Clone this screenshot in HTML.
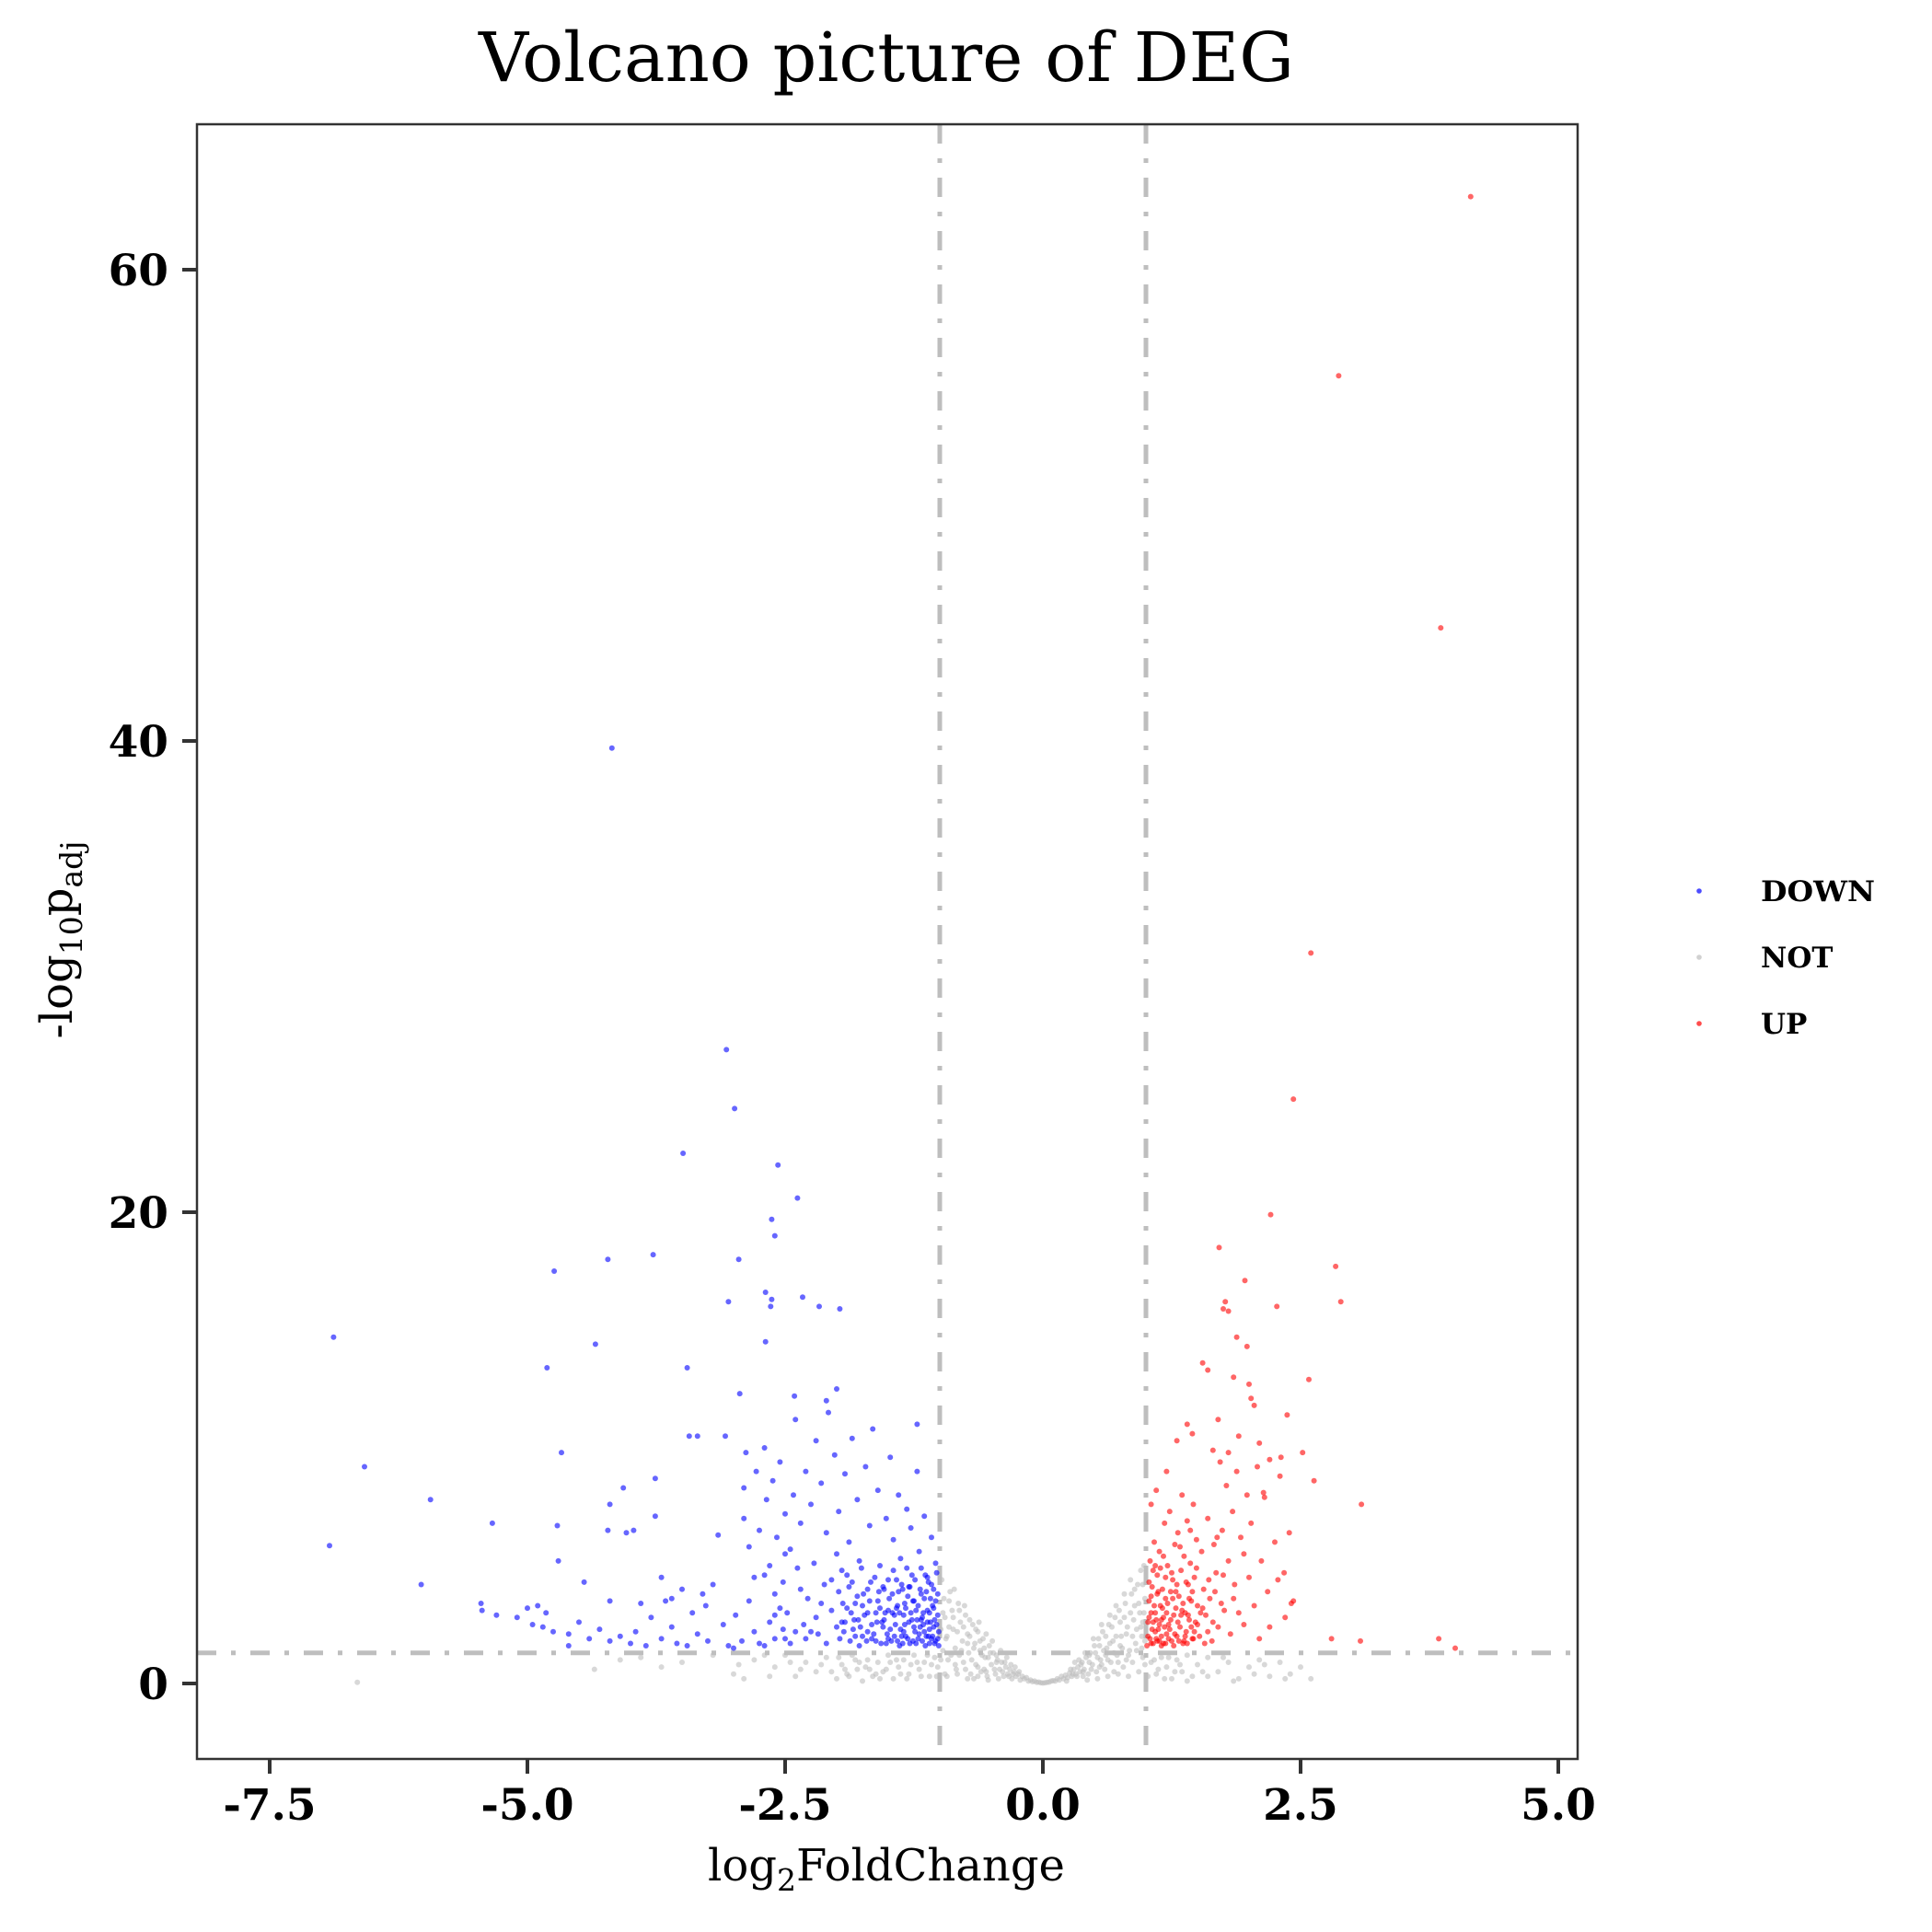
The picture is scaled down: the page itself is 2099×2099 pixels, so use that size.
<!DOCTYPE html>
<html><head><meta charset="utf-8"><style>
html,body{margin:0;padding:0;background:#fff;}
svg{display:block;}
text{font-family:"DejaVu Serif","Liberation Serif",serif;}
</style></head><body>
<svg id="chart" width="2099" height="2099" viewBox="0 0 2099 2099" xmlns="http://www.w3.org/2000/svg">
<rect width="2099" height="2099" fill="#fff"/>
<text x="963" y="88" font-size="74" text-anchor="middle" textLength="886" lengthAdjust="spacingAndGlyphs">Volcano picture of DEG</text>
<g id="grid"></g>
<g id="pts"></g>
<rect x="214" y="135" width="1500" height="1776" fill="none" stroke="#333" stroke-width="2.5"/>
<g id="axes"></g>
<text x="963" y="2043" font-size="48" text-anchor="middle">log<tspan font-size="33" dy="11">2</tspan><tspan dy="-11">FoldChange</tspan></text>
<text transform="translate(78,1021) rotate(-90)" font-size="48" text-anchor="middle">-log<tspan font-size="33" dy="11">10</tspan><tspan dy="-11">p</tspan><tspan font-size="33" dy="11">adj</tspan></text>
<g>
  <circle cx="1846" cy="968" r="2.8" fill="#0000ff" fill-opacity="0.7"/>
  <text x="1913" y="979" font-size="31" font-weight="bold" textLength="124" lengthAdjust="spacingAndGlyphs">DOWN</text>
  <circle cx="1846" cy="1040" r="2.8" fill="#bebebe" fill-opacity="0.7"/>
  <text x="1913" y="1051" font-size="31" font-weight="bold">NOT</text>
  <circle cx="1846" cy="1112" r="2.8" fill="#ff0000" fill-opacity="0.7"/>
  <text x="1913" y="1123" font-size="31" font-weight="bold">UP</text>
</g>
</svg>
<script>
const xTicks=[-7.5,-5.0,-2.5,0.0,2.5,5.0];
const xTickLabels=["-7.5","-5.0","-2.5","0.0","2.5","5.0"];
const yTicks=[0,20,40,60];
const yTickLabels=["0","20","40","60"];
const fcThresholds=[-1,1];
const padjThreshold=1.3;
const downPoints=[-6.88,14.7,-6.92,5.85,-6.58,9.2,-6.03,4.2,-5.94,7.8,-5.34,6.8,-5.45,3.4,-5.44,3.1,-4.74,17.5,-4.81,13.4,-4.67,9.8,-4.71,6.7,-4.34,14.4,-4.18,39.7,-4.22,18.0,-3.78,18.2,-3.43,10.5,-3.07,26.9,-2.99,24.4,-3.49,22.5,-2.57,22.0,-2.38,20.6,-2.63,19.7,-2.60,19.0,-2.95,18.0,-2.69,16.6,-2.63,16.3,-2.64,16.0,-2.33,16.4,-3.05,16.2,-1.97,15.9,-2.17,16.0,-2.69,14.5,-3.45,13.4,-2.94,12.3,-2.0,12.5,-2.41,12.2,-2.1,12.0,-1.22,11.0,-3.08,10.5,-3.35,10.5,-3.76,8.7,-4.07,8.3,-4.2,7.6,-3.76,7.1,-4.04,6.4,-3.97,6.5,-4.22,6.5,-4.9,3.3,-4.82,3.0,-4.2,3.5,-3.9,3.4,-3.66,3.5,-3.27,3.3,-3.15,6.3,-2.9,8.3,-2.88,9.8,
-5.3,2.9,-5.1,2.8,-5.0,3.2,-4.95,2.5,-4.85,2.4,-4.75,2.2,-4.6,2.1,-4.5,2.6,-4.4,1.9,-4.3,2.3,-4.2,1.8,-4.1,2.0,-4.0,1.7,-3.95,2.2,-3.85,1.6,-3.8,2.8,-3.7,1.9,-3.6,2.4,-3.55,1.7,-3.45,1.6,-3.4,3.0,-3.35,2.1,-3.25,1.8,-3.2,4.2,-3.1,2.5,-3.05,1.6,-2.98,2.9,-2.92,1.8,-2.85,3.5,-2.8,2.2,-2.75,1.7,-2.7,4.6,-2.65,2.6,-2.6,1.9,-2.55,3.2,-2.5,5.5,-3.0,1.5,-3.6,3.6,-4.6,1.6,-4.45,4.3,-4.7,5.2,-3.7,4.5,-3.5,4.0,-3.3,3.8,
-2.9,7.0,-2.85,5.8,-2.8,4.5,-2.78,9.0,-2.75,6.5,-2.7,10.0,-2.68,7.8,-2.65,5.0,-2.62,8.6,-2.6,3.8,-2.58,6.2,-2.55,9.4,-2.52,4.3,-2.5,7.2,-2.48,3.0,-2.45,5.7,-2.42,8.0,-2.4,11.2,-2.38,4.9,-2.35,6.8,-2.32,2.5,-2.3,9.0,-2.28,3.6,-2.25,7.6,-2.22,5.1,-2.2,10.3,-2.18,2.1,-2.15,8.5,-2.12,4.2,-2.1,6.4,-2.08,11.5,-2.05,3.1,-2.02,9.7,-2.0,5.5,-1.98,7.3,-1.95,2.6,-1.92,8.9,-1.9,4.6,-1.88,6.0,-1.85,10.4,-1.82,3.4,-1.8,7.8,-1.78,5.2,-1.75,2.0,-1.72,9.2,-1.7,4.0,-1.68,6.7,-1.65,10.8,-1.62,3.0,-1.6,8.2,-1.58,5.0,-1.55,2.4,-1.52,7.0,-1.5,4.4,-1.48,9.6,-1.45,6.1,-1.42,3.2,-1.4,8.0,-1.38,5.3,-1.35,2.2,-1.32,7.4,-1.3,4.1,-1.28,6.6,-1.25,3.5,-1.22,9.0,-1.2,5.6,-1.18,2.7,-1.15,7.1,-1.12,4.5,-1.1,3.0,-1.08,6.2,-1.06,2.4,-1.04,5.1,-1.02,3.8,
-1.98,3.9,-1.95,4.8,-1.93,2.2,-1.9,3.2,-1.87,1.8,-1.85,4.3,-1.83,2.7,-1.8,3.7,-1.78,1.6,-1.76,4.9,-1.73,2.9,-1.7,2.2,-1.68,3.5,-1.66,1.9,-1.63,4.5,-1.61,2.6,-1.59,3.9,-1.57,1.7,-1.55,4.1,-1.53,3.0,-1.51,2.1,-1.49,3.6,-1.47,1.8,-1.45,4.8,-1.43,2.5,-1.41,3.3,-1.39,1.6,-1.37,4.2,-1.35,2.9,-1.33,2.0,-1.31,3.7,-1.29,1.7,-1.27,4.6,-1.25,2.4,-1.23,3.1,-1.21,1.9,-1.19,4.0,-1.17,2.8,-1.15,3.6,-1.13,2.0,-1.11,4.3,-1.09,2.6,-1.07,3.3,-1.05,1.7,-1.03,4.7,-1.01,2.2,-1.02,2.9,-1.04,3.5,-1.06,4.0,-1.08,1.9,-1.1,2.3,-1.12,3.1,-1.14,1.6,-1.16,2.5,-1.18,3.8,-1.2,2.1,-1.22,2.7,-1.24,4.4,-1.26,1.8,-1.28,3.0,-1.3,2.6,-1.32,4.9,-1.34,3.4,-1.36,1.7,-1.38,2.3,-1.4,3.9,-1.44,2.0,-1.46,3.0,-1.5,1.9,-1.54,2.7,-1.58,3.2,-1.62,1.8,-1.66,2.5,-1.7,3.0,-1.74,3.8,-1.77,2.4,-1.82,2.0,-1.86,3.0,-1.92,2.6,-1.97,1.9,-2.1,1.7,-2.2,2.8,-2.3,1.9,-2.4,2.2,-2.45,1.7,-2.52,2.3,-2.6,2.9,-2.7,1.6,
-1.01,1.6,-1.02,1.9,-1.03,2.5,-1.04,1.8,-1.05,2.7,-1.06,3.2,-1.07,2.0,-1.08,4.2,-1.09,3.6,-1.1,1.7,-1.11,2.0,-1.12,2.6,-1.13,3.9,-1.14,4.6,-1.15,2.2,-1.16,3.0,-1.17,1.8,-1.18,4.9,-1.19,2.4,-1.21,3.3,-1.23,1.7,-1.24,2.2,-1.26,3.5,-1.27,2.7,-1.29,4.1,-1.31,1.9,-1.33,3.2,-1.34,2.5,-1.36,4.0,-1.37,2.0,-1.39,3.0,-1.41,1.8,-1.42,4.4,-1.44,2.9,-1.46,3.8,-1.48,2.3,-1.5,3.1,-1.52,1.7,-1.54,4.0,-1.56,2.6,-1.6,3.5,-1.64,2.1,-1.67,4.3,-1.71,1.8,-1.75,3.3,-1.79,2.7,-1.84,2.3,-1.88,4.1,-1.94,3.4,-2.0,2.4,-2.05,4.4,-2.15,3.4,-2.25,2.2,-2.35,4.0,-2.5,1.9];
const upPoints=[4.15,63.1,2.87,55.5,3.86,44.8,2.60,31.0,2.43,24.8,2.21,19.9,2.84,17.7,2.89,16.2,2.27,16.0,1.71,18.5,1.96,17.1,1.77,16.2,1.75,15.9,1.80,15.8,1.88,14.7,1.98,14.3,2.58,12.9,2.37,11.4,3.09,7.6,2.63,8.6,2.52,9.8,2.31,9.6,2.14,8.1,2.39,6.4,2.34,4.7,2.43,3.5,2.41,3.4,2.80,1.9,3.08,1.8,3.84,1.9,4.0,1.5,
1.55,13.6,1.6,13.3,1.85,13.0,2.0,12.7,2.05,11.8,2.02,12.1,1.7,11.2,1.45,10.6,1.3,10.3,1.4,11.0,1.9,10.5,2.1,10.2,2.2,9.5,1.8,9.8,1.65,9.9,1.2,9.0,1.1,8.2,1.05,7.6,
1.02,2.0,1.03,3.5,1.04,5.2,1.05,1.7,1.06,4.1,1.07,2.6,1.08,6.0,1.09,3.0,1.1,1.9,1.11,4.6,1.12,2.3,1.13,5.6,1.14,3.3,1.15,1.6,1.16,4.0,1.17,2.8,1.18,6.8,1.19,3.6,1.2,2.1,1.21,5.0,1.22,2.5,1.23,7.3,1.24,3.9,1.25,1.8,1.26,4.4,1.27,2.9,1.28,5.9,1.29,3.2,1.3,2.0,1.31,6.4,1.32,3.7,1.33,2.4,1.34,4.8,1.35,8.0,1.36,1.7,1.37,5.4,1.38,3.0,1.39,2.2,1.4,6.9,1.41,4.2,1.42,2.7,1.43,5.1,1.44,3.5,1.45,1.9,1.46,7.6,1.47,4.5,1.48,2.6,1.49,6.1,1.5,3.3,1.52,2.0,1.54,5.6,1.56,4.0,1.58,2.9,1.6,7.0,1.62,3.6,1.64,1.8,1.66,5.9,1.68,4.7,1.7,2.4,1.72,9.4,1.74,6.5,1.76,3.1,1.78,8.4,1.8,5.2,1.82,2.1,1.84,7.3,1.86,4.2,1.88,9.0,1.9,3.0,1.92,6.2,1.95,2.5,1.98,8.0,2.0,4.5,2.02,6.8,2.05,3.3,2.08,9.2,2.1,1.9,2.12,5.2,2.15,7.9,2.18,3.9,2.2,2.4,2.25,6.0,2.28,4.4,2.3,8.8,2.35,2.8,
1.03,2.8,1.05,3.0,1.07,4.8,1.09,2.2,1.11,3.8,1.13,1.8,1.15,2.7,1.17,5.4,1.19,1.7,1.21,3.4,1.23,2.3,1.25,4.7,1.27,1.6,1.29,3.9,1.31,2.6,1.33,5.8,1.35,3.1,1.37,1.8,1.39,4.3,1.41,2.9,1.43,6.5,1.45,3.9,1.47,2.2,1.49,4.9,1.53,3.0,1.57,1.7,1.61,4.4,1.65,2.6,1.69,6.2,1.73,3.4,
1.01,1.6,1.02,2.6,1.03,4.3,1.04,1.9,1.05,3.7,1.06,2.3,1.07,1.7,1.08,3.3,1.09,5.0,1.1,2.7,1.11,1.8,1.12,3.9,1.13,2.5,1.14,4.9,1.15,2.0,1.16,3.2,1.17,1.7,1.18,2.4,1.19,4.5,1.2,3.0,1.22,1.9,1.24,2.7,1.26,3.6,1.28,2.1,1.3,4.2,1.32,1.8,1.34,2.9,1.36,3.4,1.38,2.0,1.4,1.7,1.42,3.6,1.44,2.4,1.46,1.9,1.5,2.5,1.55,3.2,1.6,2.2,1.67,3.9,1.75,4.6,1.85,3.6,1.95,5.5];
const notPoints=[-6.65,0.05,-4.35,0.6,-3.9,1.1,-3.5,0.9,-3.2,1.2,-3.0,0.4,-2.8,1.0,-2.6,0.7,-2.5,1.2,-2.4,0.3,-2.3,0.9,-2.2,0.5,-2.1,1.1,-2.0,0.2,-1.95,0.8,-1.9,0.4,-1.85,1.2,-1.8,0.6,-1.75,0.1,-1.7,1.0,-1.65,0.3,-1.6,0.9,-1.55,0.5,-1.5,1.2,-1.45,0.2,-1.4,0.7,-1.35,1.0,-1.3,0.4,-1.25,1.2,-1.2,0.6,-1.15,0.9,-1.1,0.3,-1.05,1.1,-1.02,0.7,-3.7,0.7,-4.1,1.0,-2.9,0.2,-2.7,1.2,
-0.98,4.4,-0.96,3.6,-0.95,2.8,-0.94,1.9,-0.92,1.0,-0.9,3.9,-0.88,3.1,-0.87,2.3,-0.85,1.5,-0.84,0.6,-0.82,3.4,-0.8,2.6,-0.78,1.8,-0.77,0.9,-0.75,2.9,-0.73,2.1,-0.72,1.3,-0.7,0.4,-0.68,2.5,-0.66,1.7,-0.65,0.8,-0.63,2.2,-0.61,1.4,-0.6,0.5,-0.58,1.9,-0.56,1.1,-0.54,0.3,-0.52,1.6,-0.5,0.8,-0.48,1.3,-0.46,0.4,-0.44,1.0,-0.42,0.6,-0.4,0.9,-0.38,0.3,-0.36,0.7,-0.34,0.4,-0.32,0.6,-0.3,0.2,-0.28,0.5,-0.26,0.3,-0.24,0.4,-0.22,0.15,-0.2,0.3,-0.18,0.2,-0.16,0.25,-0.14,0.1,-0.12,0.15,-0.1,0.08,-0.08,0.1,-0.06,0.05,-0.04,0.06,-0.02,0.03,0.0,0.02,0.02,0.03,0.04,0.05,0.06,0.06,0.08,0.1,0.1,0.12,0.12,0.1,0.14,0.2,0.16,0.15,0.18,0.3,0.2,0.2,0.22,0.35,0.24,0.25,0.26,0.45,0.28,0.3,0.3,0.6,0.32,0.4,0.34,0.7,0.36,0.5,0.38,0.9,0.4,0.6,0.42,1.1,0.44,0.4,0.46,1.3,0.48,0.8,0.5,1.6,0.52,0.5,0.54,1.9,0.56,1.0,0.58,2.2,0.6,0.6,0.62,1.5,0.64,2.5,0.66,0.9,0.68,1.8,0.7,2.8,0.72,1.2,0.74,3.1,0.76,2.0,0.78,0.7,0.8,3.4,0.82,2.4,0.84,1.4,0.86,3.8,0.88,2.7,0.9,1.7,0.92,4.2,0.94,3.0,0.96,2.0,0.98,5.0,0.99,3.6,0.97,1.1,0.93,0.5,0.87,0.9,0.83,0.3,0.73,0.4,0.63,0.3,0.53,0.2,0.43,0.15,-0.43,0.2,-0.53,0.15,-0.63,0.3,-0.73,0.2,-0.83,0.4,-0.93,0.3,-0.97,1.4,-0.99,2.3,-0.91,2.4,-0.86,4.0,-0.81,1.2,-0.76,3.3,-0.71,2.7,-0.67,0.2,-0.62,2.6,-0.57,0.6,-0.55,2.1,-0.49,1.8,-0.45,0.9,-0.41,1.4,-0.35,1.1,-0.31,0.8,-0.27,0.7,-0.23,0.5,0.23,0.1,0.27,0.6,0.31,0.9,0.35,1.0,0.39,0.3,0.41,1.3,0.45,0.9,0.49,1.9,0.55,0.7,0.57,2.5,0.61,1.2,0.65,2.9,0.69,0.5,0.71,3.3,0.75,1.6,0.79,3.8,0.81,1.0,0.85,4.4,0.89,3.3,0.91,2.3,0.95,4.8,0.97,2.6,0.99,0.8,
1.05,0.9,1.1,0.4,1.15,1.1,1.2,0.7,1.25,0.2,1.3,1.0,1.35,0.5,1.4,1.2,1.45,0.3,1.5,0.8,1.6,1.1,1.7,0.5,1.8,0.9,1.9,0.2,2.0,0.7,2.1,1.0,2.2,0.3,2.3,0.9,2.4,0.4,2.5,0.7,2.6,0.2,1.85,0.1,1.4,0.1,1.6,0.3,
-0.99,1.0,-0.97,3.0,-0.95,0.4,-0.93,2.0,-0.91,3.5,-0.89,1.2,-0.87,2.8,-0.85,0.8,-0.83,2.2,-0.81,3.1,-0.79,1.4,-0.77,2.4,-0.75,0.6,-0.73,1.7,-0.71,2.0,-0.69,1.0,-0.67,1.5,-0.65,2.3,-0.63,0.7,-0.61,1.8,-0.59,1.2,-0.57,1.5,-0.55,0.5,-0.53,1.1,-0.51,1.3,-0.47,0.6,-0.45,1.2,-0.39,0.5,-0.37,0.9,-0.33,0.3,-0.29,0.4,0.29,0.4,0.33,0.3,0.37,0.8,0.39,0.5,0.45,1.2,0.47,0.6,0.51,1.3,0.53,1.1,0.55,1.6,0.57,0.8,0.59,1.4,0.61,2.0,0.63,1.0,0.65,1.7,0.67,2.4,0.69,1.3,0.71,2.0,0.73,0.9,0.75,2.6,0.77,1.5,0.79,2.8,0.81,2.1,0.83,1.2,0.85,3.0,0.87,2.0,0.89,4.0,0.91,1.4,0.93,3.4,0.95,2.4,0.97,4.2,0.99,1.8,0.98,3.0,0.96,1.5,
-2.95,0.8,-2.65,0.3,-2.45,0.9,-2.35,0.6,-2.15,0.8,-2.05,0.5,-1.98,1.1,-1.88,0.3,-1.78,0.9,-1.68,0.6,-1.58,0.2,-1.48,0.9,-1.38,0.4,-1.28,0.8,-1.18,0.3,-1.08,0.8,-1.03,0.3,-1.12,1.2,-1.22,0.9,-1.32,0.2,-1.42,1.0,-1.52,0.6,-1.62,0.4,-1.72,0.7,-1.82,1.0,-1.92,0.6,1.02,0.3,1.08,1.0,1.12,0.6,1.18,0.2,1.22,1.1,1.28,0.5,1.33,0.8,1.55,0.5,1.75,1.1,2.05,0.4,2.15,0.8,2.35,0.2];

const NS="http://www.w3.org/2000/svg";
const X0=1133, XU=112.0, Y0=1829, YU=25.6;
const PL=214, PR=1714, PT=135, PB=1911;
function xScale(v){return X0+v*XU;}
function yScale(v){return Y0-v*YU;}
function mk(tag,attrs,parent){const e=document.createElementNS(NS,tag);for(const k in attrs)e.setAttribute(k,attrs[k]);parent.appendChild(e);return e;}

const grid=document.getElementById('grid');
const dash="21 16 5 16";
fcThresholds.forEach(function(t){
  const l=mk('line',{x1:xScale(t),x2:xScale(t),y1:PT,y2:PB,stroke:'#bebebe','stroke-width':5,'stroke-dasharray':dash},grid);
  
  
});
const hl=mk('line',{x1:PL,x2:PR,y1:yScale(padjThreshold),y2:yScale(padjThreshold),stroke:'#bebebe','stroke-width':5,'stroke-dasharray':dash},grid);



const pts=document.getElementById('pts');
function drawSeries(arr,color,name){
  for(let i=0;i<arr.length;i+=2){
    const c=mk('circle',{cx:xScale(arr[i]).toFixed(1),cy:yScale(arr[i+1]).toFixed(1),r:3.0,fill:color,'fill-opacity':0.6},pts);
    
    
  }
}
drawSeries(notPoints,'#bebebe','point-not');
drawSeries(downPoints,'#0000ff','point-down');
drawSeries(upPoints,'#ff0000','point-up');

const axes=document.getElementById('axes');
xTicks.forEach(function(v,i){
  const t=mk('line',{x1:xScale(v),x2:xScale(v),y1:PB,y2:PB+16,stroke:'#333','stroke-width':4},axes);
  
  
  const tx=mk('text',{x:xScale(v),y:1977,'font-size':47,'font-weight':'bold','text-anchor':'middle'},axes);
  tx.textContent=xTickLabels[i];
  
  
});
yTicks.forEach(function(v,i){
  const t=mk('line',{x1:PL-16,x2:PL,y1:yScale(v),y2:yScale(v),stroke:'#333','stroke-width':4},axes);
  
  
  const tx=mk('text',{x:183,y:yScale(v)+17,'font-size':47,'font-weight':'bold','text-anchor':'end'},axes);
  tx.textContent=yTickLabels[i];
  
  
});
</script>
</body></html>
